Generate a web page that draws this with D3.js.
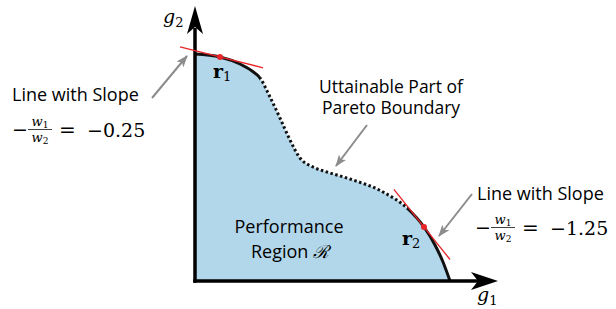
<!DOCTYPE html>
<html>
<head>
<meta charset="utf-8">
<script src="https://cdn.jsdelivr.net/npm/d3@7"></script>
<style>
  body { margin: 0; background: #fff; }
  text { font-family: "Open Sans", sans-serif; fill: #000; }
  text.math, .math text { font-family: "DejaVu Serif", serif; }
</style>
</head>
<body>
<div id="chart"></div>
<script>
// Pareto boundary of the performance region (g1, g2)
const g1Values = [0, 0.833, 1.5, 1.9, 2.167, 2.5, 2.833, 3.167, 3.5, 3.933, 4.4, 5.167, 6.267, 7.067, 7.633, 8.0, 8.267, 8.5];
const g2Values = [7.567, 7.467, 7.233, 7.0, 6.767, 6.133, 5.433, 4.7, 4.1, 3.8, 3.633, 3.4, 2.967, 2.433, 1.8, 1.2, 0.633, 0];

// the middle (dotted) part of the boundary is unattainable
const unattainableFrom = 2.167;
const unattainableTo = 7.067;

// tangent points r1, r2 and their supporting lines
const tangentNames = ["1", "2"];
const tangentG1 = [0.833, 7.633];
const tangentG2 = [7.467, 1.8];
const tangentSlopes = [-0.25, -1.25];
const tangentFrom = [-0.5, 6.63];
const tangentTo = [2.27, 8.5];
const slopeLabels = ["\u22120.25", "\u22121.25"];

const W = 616, H = 309;
const x = d3.scaleLinear().domain([0, 10]).range([195, 495]);
const y = d3.scaleLinear().domain([0, 9]).range([281, 11]);

const pts = g1Values.map((d, i) => [d, g2Values[i]]);

const svg = d3.select("#chart").append("svg")
  .attr("width", W).attr("height", H)
  .style("display", "block");

const defs = svg.append("defs");
defs.append("marker")
  .attr("id", "grayhead")
  .attr("viewBox", "0 -5 12 10")
  .attr("refX", 11).attr("refY", 0)
  .attr("markerWidth", 12).attr("markerHeight", 10)
  .attr("markerUnits", "userSpaceOnUse")
  .attr("orient", "auto")
  .append("path")
  .attr("d", "M0,-4.5L12,0L0,4.5L3,0Z")
  .attr("fill", "#8c8c8c");

// clip regions for solid vs dotted parts
const solidClip = defs.append("clipPath").attr("id", "solidClip");
solidClip.append("rect").attr("x", 0).attr("y", 0)
  .attr("width", x(unattainableFrom)).attr("height", H);
solidClip.append("rect").attr("x", x(unattainableTo)).attr("y", 0)
  .attr("width", W - x(unattainableTo)).attr("height", H);
defs.append("clipPath").attr("id", "dotClip")
  .append("rect").attr("x", x(unattainableFrom)).attr("y", 0)
  .attr("width", x(unattainableTo) - x(unattainableFrom)).attr("height", H);

// performance region fill
const area = d3.area()
  .x(d => x(d[0])).y0(y(0)).y1(d => y(d[1]))
  .curve(d3.curveMonotoneX);
svg.append("path").datum(pts)
  .attr("d", area)
  .attr("fill", "#b2d7ea");

const line = d3.line().x(d => x(d[0])).y(d => y(d[1])).curve(d3.curveMonotoneX);
svg.append("path").datum(pts)
  .attr("d", line)
  .attr("fill", "none").attr("stroke", "#111").attr("stroke-width", 3)
  .attr("clip-path", "url(#solidClip)");
svg.append("path").datum(pts)
  .attr("d", line)
  .attr("fill", "none").attr("stroke", "#111").attr("stroke-width", 3)
  .attr("stroke-dasharray", "2.5,2.5")
  .attr("clip-path", "url(#dotClip)");

// axes with arrowheads
svg.append("line")
  .attr("x1", x(0)).attr("x2", x(0))
  .attr("y1", y(0) + 1.7).attr("y2", 28)
  .attr("stroke", "#000").attr("stroke-width", 3.5);
svg.append("path")
  .attr("d", `M${x(0)},6L${x(0) + 8},34L${x(0)},27L${x(0) - 8},34Z`)
  .attr("fill", "#000");
svg.append("line")
  .attr("x1", x(0) - 1.7).attr("x2", 478)
  .attr("y1", y(0)).attr("y2", y(0))
  .attr("stroke", "#000").attr("stroke-width", 3.5);
svg.append("path")
  .attr("d", `M498,${y(0)}L471,${y(0) - 9}L478,${y(0)}L471,${y(0) + 9}Z`)
  .attr("fill", "#000");

// axis names
const g2Label = svg.append("text").attr("class", "math").attr("x", 163).attr("y", 23)
  .style("font-size", "19px");
g2Label.append("tspan").style("font-style", "italic").text("g");
g2Label.append("tspan").attr("dy", 4).style("font-size", "13px").text("2");

const g1Label = svg.append("text").attr("class", "math").attr("x", 477).attr("y", 301)
  .style("font-size", "19px");
g1Label.append("tspan").style("font-style", "italic").text("g");
g1Label.append("tspan").attr("dy", 4).style("font-size", "13px").text("1");

// tangent lines and points
tangentNames.forEach((nm, i) => {
  const f = g => tangentG2[i] + tangentSlopes[i] * (g - tangentG1[i]);
  svg.append("line")
    .attr("x1", x(tangentFrom[i])).attr("y1", y(f(tangentFrom[i])))
    .attr("x2", x(tangentTo[i])).attr("y2", y(f(tangentTo[i])))
    .attr("stroke", "#e8262b").attr("stroke-width", 1.3);
  svg.append("circle")
    .attr("cx", x(tangentG1[i])).attr("cy", y(tangentG2[i]))
    .attr("r", 3).attr("fill", "#e8262b");
});

// r1 and r2 labels
const rPos = [[213, 78], [402, 245]];
tangentNames.forEach((nm, i) => {
  const t = svg.append("text").attr("class", "math")
    .attr("x", rPos[i][0]).attr("y", rPos[i][1]).style("font-size", "19px");
  t.append("tspan").style("font-weight", "bold").text("r");
  t.append("tspan").attr("dy", 3).style("font-size", "13px").text(nm);
});

// "-w1/w2 = value" labels
function slopeLabel(x0, base, value) {
  const g = svg.append("g").attr("class", "math");
  g.append("text").attr("x", x0).attr("y", base - 1).style("font-size", "19px").text("\u2212");
  const fx = x0 + 28;
  const num = g.append("text").attr("x", fx).attr("y", base - 11)
    .attr("text-anchor", "middle").style("font-size", "13px");
  num.append("tspan").style("font-style", "italic").text("w");
  num.append("tspan").attr("dy", 2).style("font-size", "9px").text("1");
  g.append("line").attr("x1", fx - 12).attr("x2", fx + 12)
    .attr("y1", base - 7.5).attr("y2", base - 7.5)
    .attr("stroke", "#111").attr("stroke-width", 0.8);
  const den = g.append("text").attr("x", fx).attr("y", base + 5)
    .attr("text-anchor", "middle").style("font-size", "13px");
  den.append("tspan").style("font-style", "italic").text("w");
  den.append("tspan").attr("dy", 2).style("font-size", "9px").text("2");
  g.append("text").attr("x", x0 + 47).attr("y", base).style("font-size", "20px").text("=");
  g.append("text").attr("x", x0 + 75).attr("y", base).style("font-size", "19px").text(value);
}

svg.append("text").attr("x", 12).attr("y", 101).style("font-size", "18px").text("Line with Slope");
slopeLabel(12, 137, slopeLabels[0]);
svg.append("text").attr("x", 477).attr("y", 200).style("font-size", "18px").text("Line with Slope");
slopeLabel(475, 235, slopeLabels[1]);

svg.append("text").attr("x", 391).attr("y", 93).attr("text-anchor", "middle")
  .style("font-size", "17.5px").text("Uttainable Part of");
svg.append("text").attr("x", 391).attr("y", 114).attr("text-anchor", "middle")
  .style("font-size", "17.5px").text("Pareto Boundary");

svg.append("text").attr("x", 289).attr("y", 233).attr("text-anchor", "middle")
  .style("font-size", "18px").text("Performance");
const reg = svg.append("text").attr("x", 290).attr("y", 258).attr("text-anchor", "middle")
  .style("font-size", "18px");
reg.append("tspan").text("Region ");
reg.append("tspan").style("font-family", "'DejaVu Serif', serif").style("font-style", "italic").text("\u211B");

// gray pointer arrows
const pointers = [[152, 98, 187, 56], [367, 125, 336, 166], [472, 194, 439, 236]];
pointers.forEach(p => {
  svg.append("line")
    .attr("x1", p[0]).attr("y1", p[1]).attr("x2", p[2]).attr("y2", p[3])
    .attr("stroke", "#8c8c8c").attr("stroke-width", 2)
    .attr("marker-end", "url(#grayhead)");
});
</script>
</body>
</html>
